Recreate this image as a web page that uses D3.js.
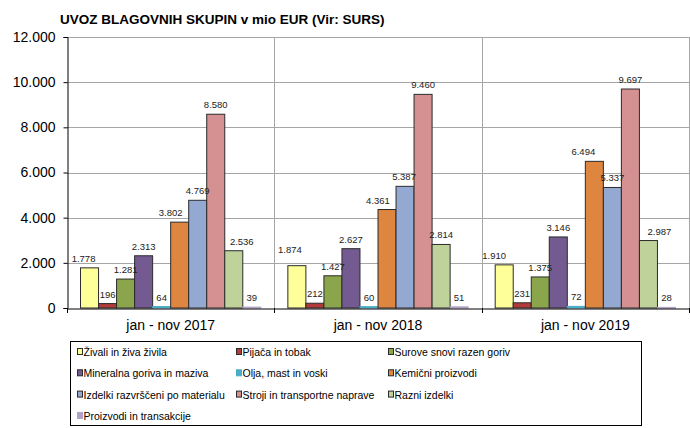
<!DOCTYPE html>
<html>
<head>
<meta charset="utf-8">
<script src="https://cdn.jsdelivr.net/npm/d3@7"></script>
<style>
  body { margin: 0; background: #fff; }
  svg { display: block; font-family: "Liberation Sans", Arial, sans-serif; }
</style>
</head>
<body>
<div id="chart"></div>
<script>
// data
var periods = ["jan - nov 2017", "jan - nov 2018", "jan - nov 2019"];
var seriesNames = [
  "Živali in živa živila",
  "Pijača in tobak",
  "Surove snovi razen goriv",
  "Mineralna goriva in maziva",
  "Olja, mast in voski",
  "Kemični proizvodi",
  "Izdelki razvrščeni po materialu",
  "Stroji in transportne naprave",
  "Razni izdelki",
  "Proizvodi in transakcije"
];
var zivali = [1778, 1874, 1910];
var pijaca = [196, 212, 231];
var surove = [1281, 1427, 1375];
var mineralna = [2313, 2627, 3146];
var olja = [64, 60, 72];
var kemicni = [3802, 4361, 6494];
var izdelki = [4769, 5387, 5337];
var stroji = [8580, 9460, 9697];
var razni = [2536, 2814, 2987];
var transakcije = [39, 51, 28];
var yTicks = [0, 2000, 4000, 6000, 8000, 10000, 12000];

var seriesValues = [zivali, pijaca, surove, mineralna, olja, kemicni, izdelki, stroji, razni, transakcije];

var colors = ["#ffff99", "#b13a3a", "#8aa54c", "#735a90", "#4bacc6", "#de853f", "#94a9d1", "#d59191", "#bed29a", "#b3a2c7"];
var outlined = [true, true, true, true, false, true, true, true, true, false];

// Excel label nudges (period index|series index -> [dx, dy])
var labelNudge = {
  "0|0": [-6, 0], "0|5": [-9, 0], "0|8": [8, 0],
  "1|0": [-7, -7], "1|5": [-9, 0], "1|6": [-1, 0],
  "2|0": [-10, 0], "2|5": [-11, 0], "2|8": [11, 0]
};

var sl = d3.formatLocale({ decimal: ",", thousands: ".", grouping: [3], currency: ["", "€"] });
var fmt = sl.format(",d");

var width = 690, height = 428;
var plot = { left: 67, right: 689, top: 37, bottom: 308 };

var svg = d3.select("#chart").append("svg")
  .attr("width", width)
  .attr("height", height);

svg.append("rect").attr("width", width).attr("height", height).attr("fill", "#fff");

// title
svg.append("text")
  .attr("x", 60)
  .attr("y", 24)
  .attr("font-size", 13.5)
  .attr("font-weight", "bold")
  .attr("fill", "#000")
  .text("UVOZ BLAGOVNIH SKUPIN v mio EUR (Vir: SURS)");

var x0 = d3.scaleBand()
  .domain(periods)
  .range([plot.left, plot.right])
  .padding(0);

var x1 = d3.scaleBand()
  .domain(d3.range(seriesNames.length))
  .range([0, x0.bandwidth()])
  .paddingInner(0)
  .paddingOuter(0.75);

var y = d3.scaleLinear()
  .domain([0, 12000])
  .range([plot.bottom, plot.top]);

// horizontal gridlines
svg.append("g")
  .selectAll("line")
  .data(yTicks.slice(1))
  .join("line")
  .attr("x1", plot.left)
  .attr("x2", plot.right)
  .attr("y1", function (d) { return Math.round(y(d)) + 0.5; })
  .attr("y2", function (d) { return Math.round(y(d)) + 0.5; })
  .attr("stroke", "#a6a6a6")
  .attr("stroke-width", 1);

// vertical separators between periods
svg.append("g")
  .selectAll("line")
  .data(periods)
  .join("line")
  .attr("x1", function (d) { return Math.round(x0(d) + x0.bandwidth()) + 0.5; })
  .attr("x2", function (d) { return Math.round(x0(d) + x0.bandwidth()) + 0.5; })
  .attr("y1", plot.top)
  .attr("y2", plot.bottom)
  .attr("stroke", "#a6a6a6");

// y axis
var yAxis = svg.append("g")
  .attr("transform", "translate(" + (plot.left + 0.5) + ",0)")
  .call(d3.axisLeft(y).tickValues(yTicks).tickFormat(fmt).tickSize(4).tickPadding(8));
yAxis.select(".domain").attr("stroke", "#000");
yAxis.selectAll(".tick line").attr("stroke", "#000");
yAxis.selectAll(".tick text")
  .attr("font-size", 14)
  .attr("fill", "#000")
  .attr("font-family", "Liberation Sans, Arial, sans-serif");

// bars
var groups = svg.append("g")
  .selectAll("g")
  .data(periods)
  .join("g")
  .attr("transform", function (d) { return "translate(" + x0(d) + ",0)"; });

groups.each(function (p, pi) {
  var g = d3.select(this);
  var rows = seriesValues.map(function (vals, si) { return { si: si, v: vals[pi] }; });

  g.selectAll("rect")
    .data(rows)
    .join("rect")
    .attr("x", function (d) { return x1(d.si); })
    .attr("width", x1.bandwidth())
    .attr("y", function (d) { return y(d.v); })
    .attr("height", function (d) { return Math.max(plot.bottom - y(d.v), 0.8); })
    .attr("fill", function (d) { return colors[d.si]; })
    .attr("stroke", function (d) { return outlined[d.si] ? "#2b2b2b" : colors[d.si]; })
    .attr("stroke-width", 1);

  g.selectAll("text")
    .data(rows)
    .join("text")
    .attr("x", function (d) {
      var n = labelNudge[pi + "|" + d.si] || [0, 0];
      return x1(d.si) + x1.bandwidth() / 2 + n[0];
    })
    .attr("y", function (d) {
      var n = labelNudge[pi + "|" + d.si] || [0, 0];
      return y(d.v) - 6 + n[1];
    })
    .attr("text-anchor", "middle")
    .attr("font-size", 9.5)
    .attr("fill", "#222")
    .text(function (d) { return fmt(d.v); });
});

// x axis
var xAxis = svg.append("g")
  .attr("transform", "translate(0," + (plot.bottom + 0.5) + ")")
  .call(d3.axisBottom(x0).tickSize(0).tickPadding(12));
xAxis.select(".domain").attr("stroke", "#000");
xAxis.selectAll(".tick text")
  .attr("font-size", 14)
  .attr("fill", "#000")
  .attr("font-family", "Liberation Sans, Arial, sans-serif");

// category boundary tick marks
var bounds = [plot.left].concat(periods.map(function (d) { return x0(d) + x0.bandwidth(); }));
svg.append("g")
  .selectAll("line")
  .data(bounds)
  .join("line")
  .attr("x1", function (d) { return Math.round(d) + 0.5; })
  .attr("x2", function (d) { return Math.round(d) + 0.5; })
  .attr("y1", plot.bottom)
  .attr("y2", plot.bottom + 5)
  .attr("stroke", "#000");

// legend
var legend = svg.append("g");
legend.append("rect")
  .attr("x", 70.5)
  .attr("y", 341.5)
  .attr("width", 571)
  .attr("height", 84)
  .attr("fill", "#fff")
  .attr("stroke", "#000");

var colX = [77, 236, 388];
var rowY = [352, 373.3, 394.6, 415.9];

var items = legend.selectAll("g.item")
  .data(seriesNames)
  .join("g")
  .attr("class", "item")
  .attr("transform", function (d, i) {
    return "translate(" + colX[i % 3] + "," + rowY[Math.floor(i / 3)] + ")";
  });

items.append("rect")
  .attr("x", 0.5)
  .attr("y", -3.5)
  .attr("width", 5)
  .attr("height", 6)
  .attr("fill", function (d, i) { return colors[i]; })
  .attr("stroke", function (d, i) { return outlined[i] ? "#2b2b2b" : colors[i]; });

items.append("text")
  .attr("x", 6.5)
  .attr("y", 4)
  .attr("font-size", 10.5)
  .attr("fill", "#000")
  .text(function (d) { return d; });
</script>
</body>
</html>
